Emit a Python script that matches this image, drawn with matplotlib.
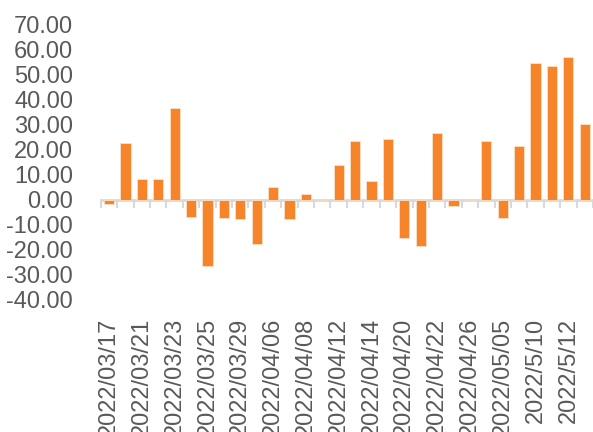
import matplotlib.pyplot as plt
import numpy as np

plt.rcParams['font.family'] = ['Liberation Sans', 'DejaVu Sans']

# categories (only every other one is labelled in the original)
dates = ['2022/03/17', '2022/03/18', '2022/03/21', '2022/03/22', '2022/03/23',
         '2022/03/24', '2022/03/25', '2022/03/28', '2022/03/29', '2022/03/31',
         '2022/04/06', '2022/04/07', '2022/04/08', '2022/04/11', '2022/04/12',
         '2022/04/13', '2022/04/14', '2022/04/19', '2022/04/20', '2022/04/21',
         '2022/04/22', '2022/04/25', '2022/04/26', '2022/04/29', '2022/05/05',
         '2022/5/09', '2022/5/10', '2022/5/11', '2022/5/12', '2022/5/13']
values = [-1.6, 22.6, 8.5, 8.5, 36.9, -6.7, -26.6, -7.3, -7.5, -17.5,
          5.0, -7.7, 2.5, 0.5, 13.8, 23.5, 7.5, 24.2, -15.1, -18.3,
          26.7, -2.5, 0.5, 23.5, -7.4, 21.6, 54.8, 53.7, 57.0, 30.2]
yticks = np.arange(-40, 71, 10)

orange = '#F5842A'
grey_txt = '#595959'
grey_ax = '#D9D9D9'

fig = plt.figure(figsize=(5.93, 4.32), dpi=100)
ax = fig.add_axes([0.170, 0.3056, 0.830, 0.637])

x = np.arange(len(dates))
ax.bar(x, values, width=0.62, color=orange, edgecolor='#FCE1C8', linewidth=0.6, zorder=2)

ax.set_xlim(-0.5, len(dates) - 0.5)
ax.set_ylim(-40, 70)
ax.set_yticks(yticks)
ax.set_yticklabels(['{:.2f}'.format(v) for v in yticks])
ax.tick_params(axis='y', length=0, pad=20, labelsize=17, labelcolor=grey_txt)

ax.set_xticks(x[::2])
ax.set_xticklabels(dates[::2], rotation=90)
ax.tick_params(axis='x', length=0, pad=13, labelsize=17, labelcolor=grey_txt)

for s in ax.spines.values():
    s.set_visible(False)

# category axis drawn at zero with boundary ticks
zero_frac = (0 - (-40)) / (70 - (-40))
sec = ax.secondary_xaxis(zero_frac)
sec.set_xticks(np.arange(-0.5, len(dates), 1))
sec.set_xticklabels([])
sec.tick_params(axis='x', direction='out', length=6, width=1.5, color=grey_ax)
sec.spines['bottom'].set_color(grey_ax)
sec.spines['bottom'].set_linewidth(2)
sec.spines['bottom'].set_zorder(1)

fig.savefig('out.png', dpi=100)
